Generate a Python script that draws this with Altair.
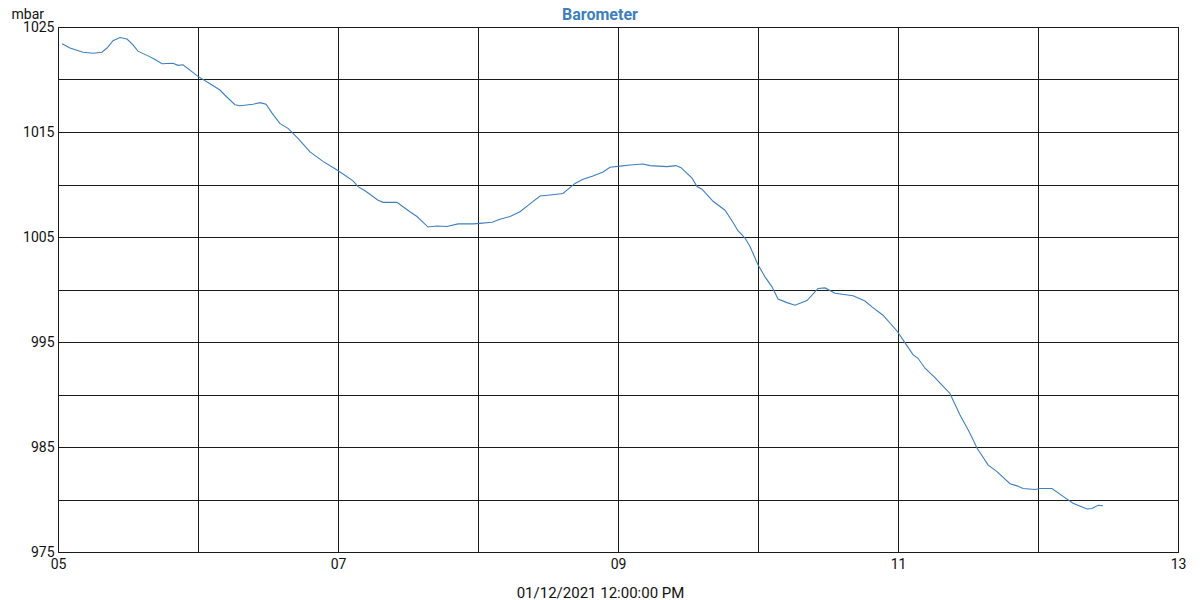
import altair as alt
import pandas as pd

# Time in days of the month (January 2021), pressure in mbar
days = [5.029, 5.086, 5.179, 5.25, 5.314, 5.35, 5.393, 5.443, 5.493, 5.536, 5.571, 5.643, 5.693,
        5.743, 5.821, 5.857, 5.893, 6.0, 6.086, 6.157, 6.193, 6.264, 6.3, 6.393, 6.443, 6.486,
        6.529, 6.586, 6.643, 6.714, 6.8, 6.893, 6.979, 7.036, 7.107, 7.143, 7.193, 7.286, 7.321,
        7.421, 7.457, 7.514, 7.564, 7.643, 7.707, 7.779, 7.857, 7.964, 8.014, 8.1, 8.157, 8.229,
        8.3, 8.371, 8.443, 8.514, 8.607, 8.693, 8.75, 8.821, 8.893, 8.943, 9.014, 9.086, 9.179,
        9.229, 9.35, 9.414, 9.45, 9.493, 9.529, 9.564, 9.6, 9.679, 9.764, 9.814, 9.857, 9.907,
        9.943, 10.0, 10.05, 10.1, 10.143, 10.207, 10.264, 10.35, 10.429, 10.479, 10.55, 10.6,
        10.679, 10.764, 10.814, 10.893, 10.993, 11.036, 11.107, 11.143, 11.193, 11.264, 11.321,
        11.371, 11.443, 11.514, 11.564, 11.643, 11.707, 11.8, 11.85, 11.893, 11.979, 12.014,
        12.1, 12.179, 12.25, 12.35, 12.386, 12.429, 12.464]
mbar = [1023.4, 1023.0, 1022.6, 1022.5, 1022.6, 1023.0, 1023.7, 1024.0, 1023.85, 1023.3, 1022.7,
        1022.25, 1021.9, 1021.5, 1021.55, 1021.35, 1021.4, 1020.3, 1019.6, 1019.0, 1018.5, 1017.6,
        1017.5, 1017.65, 1017.8, 1017.65, 1016.8, 1015.8, 1015.35, 1014.4, 1013.1, 1012.2, 1011.5,
        1011.0, 1010.35, 1009.8, 1009.4, 1008.5, 1008.3, 1008.3, 1007.95, 1007.4, 1006.95, 1005.95,
        1006.05, 1006.0, 1006.25, 1006.25, 1006.3, 1006.4, 1006.7, 1006.95, 1007.4, 1008.15, 1008.9,
        1009.0, 1009.15, 1010.1, 1010.5, 1010.8, 1011.2, 1011.65, 1011.75, 1011.85, 1011.95, 1011.8,
        1011.7, 1011.8, 1011.6, 1011.05, 1010.6, 1009.8, 1009.55, 1008.4, 1007.55, 1006.55, 1005.6,
        1004.9, 1004.1, 1002.35, 1001.2, 1000.25, 999.1, 998.75, 998.5, 998.95, 1000.1, 1000.15,
        999.65, 999.55, 999.4, 998.9, 998.35, 997.55, 996.05, 995.2, 993.8, 993.45, 992.5, 991.6,
        990.8, 990.1, 988.05, 986.3, 984.9, 983.3, 982.65, 981.5, 981.3, 981.05, 980.95, 981.05,
        981.05, 980.3, 979.65, 979.1, 979.15, 979.45, 979.4]

x_ticks = [5, 6, 7, 8, 9, 10, 11, 12, 13]
y_ticks = [975, 980, 985, 990, 995, 1000, 1005, 1010, 1015, 1020, 1025]
chart_title = ["Barometer"]

df = pd.DataFrame({"day": days, "mbar": mbar})
title_df = pd.DataFrame({"t": chart_title})

FONT = "Roboto"
BLUE = "#3d7fc0"

line = alt.Chart(df).mark_line(color=BLUE, strokeWidth=1.1).encode(
    x=alt.X(
        "day:Q",
        scale=alt.Scale(domain=[5, 13], nice=False, zero=False),
        axis=alt.Axis(
            values=x_ticks,
            labelExpr="datum.value % 2 == 1 ? (datum.value < 10 ? '0' + datum.value : '' + datum.value) : ''",
            title="01/12/2021 12:00:00 PM",
            titleFont=FONT, titleFontSize=15, titleFontWeight="normal", titleColor="#111",
            titleX=542, titleY=45, titleAlign="center", titleBaseline="alphabetic",
            labelFont=FONT, labelFontSize=14, labelColor="#111", labelPadding=5,
            labelFlush=False, labelOverlap=False,
            ticks=False, domain=False,
            grid=True, gridColor="#1a1a1a", gridWidth=1, gridOpacity=1,
        ),
    ),
    y=alt.Y(
        "mbar:Q",
        scale=alt.Scale(domain=[975, 1025], nice=False, zero=False),
        axis=alt.Axis(
            values=y_ticks, format="d",
            labelExpr="(datum.value - 975) % 10 == 0 ? datum.label : ''",
            title="mbar", titleAngle=0,
            titleFont=FONT, titleFontSize=14, titleFontWeight="normal", titleColor="#111",
            titleX=-47, titleY=-9, titleAlign="left", titleBaseline="alphabetic",
            labelFont=FONT, labelFontSize=14, labelColor="#111", labelPadding=4,
            labelFlush=False, labelOverlap=False,
            ticks=False, domain=False,
            grid=True, gridColor="#1a1a1a", gridWidth=1, gridOpacity=1,
        ),
    ),
)

title = alt.Chart(title_df).mark_text(
    font=FONT, fontSize=16, fontWeight="bold", color=BLUE,
    align="center", baseline="alphabetic",
).encode(
    text="t:N",
    x=alt.value(542),
    y=alt.value(-7),
)

chart = alt.layer(line, title).properties(
    width=1120,
    height=525,
    autosize=alt.AutoSizeParams(type="none"),
    padding={"left": 50, "top": 19, "right": 14, "bottom": 48},
).configure_view(stroke="#1a1a1a", strokeWidth=1)

chart.save("out.html", embed_options={"renderer": "svg", "actions": False})
